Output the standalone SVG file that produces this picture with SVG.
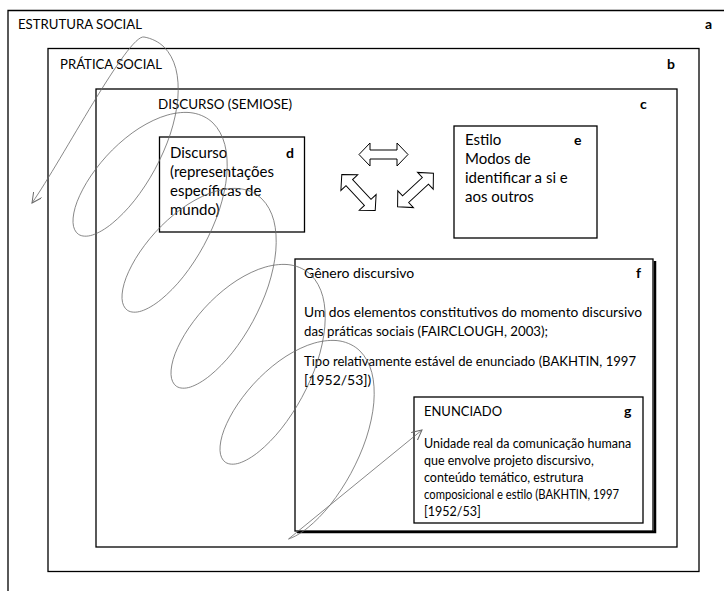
<svg xmlns="http://www.w3.org/2000/svg" width="724" height="591" viewBox="0 0 724 591">
<defs>
<style>
.bx{fill:#fff;stroke:#000;stroke-width:1.3}
.t{font-family:Lato,"Liberation Sans",sans-serif;fill:#000}
.h{font-size:13.5px}
.d{font-size:15px}
.f{font-size:14px}
.g{font-size:12.5px}
.k{font-size:14px;font-weight:bold}
.sp{fill:none;stroke:#6a6a6a;stroke-width:0.8}
.da{fill:#fff;stroke:#000;stroke-width:1}
</style>
<marker id="ah" markerWidth="12" markerHeight="12" refX="10" refY="5" orient="auto-start-reverse" markerUnits="userSpaceOnUse">
<path d="M0,0 L10,5 L0,10" fill="none" stroke="#6a6a6a" stroke-width="1"/>
</marker>
<polygon id="dbl" points="-24.5,0 -13.5,-11.5 -13.5,-4.5 13.5,-4.5 13.5,-11.5 24.5,0 13.5,11.5 13.5,4.5 -13.5,4.5 -13.5,11.5"/>
</defs>
<rect width="724" height="591" fill="#fff"/>
<g id="a">
<path d="M8,591 V10.5 H724" fill="none" stroke="#000" stroke-width="1.3"/>
<text class="t h" x="18" y="29" textLength="124" lengthAdjust="spacingAndGlyphs">ESTRUTURA SOCIAL</text>
<text class="t k" x="705" y="29">a</text>
</g>
<g id="b">
<rect class="bx" x="48" y="48.5" width="651" height="523"/>
<text class="t h" x="60" y="69" textLength="102" lengthAdjust="spacingAndGlyphs">PRÁTICA SOCIAL</text>
<text class="t k" x="667" y="69">b</text>
</g>
<g id="c">
<rect class="bx" x="96" y="89" width="581" height="458"/>
<text class="t h" x="158" y="109" textLength="134" lengthAdjust="spacingAndGlyphs">DISCURSO (SEMIOSE)</text>
<text class="t k" x="640" y="109">c</text>
</g>
<g id="d">
<rect class="bx" x="159.5" y="137" width="145" height="95"/>
<text class="t d" x="170" y="158">Discurso</text>
<text class="t d" x="170" y="177">(representações</text>
<text class="t d" x="170" y="196">específicas de</text>
<text class="t d" x="170" y="215">mundo)</text>
<text class="t k" x="286" y="158">d</text>
</g>
<g id="e">
<rect class="bx" x="454" y="126" width="143" height="112"/>
<text class="t d" x="465" y="145">Estilo</text>
<text class="t d" x="465" y="164">Modos de</text>
<text class="t d" x="465" y="183">identificar a si e</text>
<text class="t d" x="465" y="202">aos outros</text>
<text class="t k" x="574" y="145">e</text>
</g>
<g id="f">
<path d="M297,532 H655 V261" fill="none" stroke="#000" stroke-width="2.5"/>
<rect class="bx" x="295" y="259" width="358" height="272"/>
<text class="t f" x="304" y="278">Gênero discursivo</text>
<text class="t k" x="636" y="278">f</text>
<text class="t f" x="304" y="317" textLength="338" lengthAdjust="spacingAndGlyphs">Um dos elementos constitutivos do momento discursivo</text>
<text class="t f" x="304" y="336" textLength="244" lengthAdjust="spacingAndGlyphs">das práticas sociais (FAIRCLOUGH, 2003);</text>
<text class="t f" x="304" y="366" textLength="332" lengthAdjust="spacingAndGlyphs">Tipo relativamente estável de enunciado (BAKHTIN, 1997</text>
<text class="t f" x="304" y="385">[1952/53])</text>
</g>
<g id="g">
<rect class="bx" x="414" y="397" width="229" height="126"/>
<text class="t h" x="424" y="416" textLength="78" lengthAdjust="spacingAndGlyphs">ENUNCIADO</text>
<text class="t k" x="624" y="416">g</text>
<text class="t g" x="424" y="448">Unidade real da comunicação humana</text>
<text class="t g" x="424" y="465">que envolve projeto discursivo,</text>
<text class="t g" x="424" y="482">conteúdo temático, estrutura</text>
<text class="t g" x="424" y="499" textLength="195" lengthAdjust="spacingAndGlyphs">composicional e estilo (BAKHTIN, 1997</text>
<text class="t g" x="424" y="516">[1952/53]</text>
</g>
<g id="connectors">
<use href="#dbl" class="da" transform="translate(383.5,154.5)"/>
<use href="#dbl" class="da" transform="translate(358.5,192.5) rotate(47)"/>
<use href="#dbl" class="da" transform="translate(415.5,190) rotate(-43)"/>
<path class="sp" marker-start="url(#ah)" marker-end="url(#ah)" d="M32,203 C62,160 128,34 144,37
c7.65,1.33 14.8,4.85 20.1,10.1 c5.3,5.25 9.42,12.78 11.7,21.4 c2.28,8.62 2.92,19.38 2,30.3 c-0.92,10.92 -3.67,23.42 -7.5,35.2 c-3.83,11.78 -9.5,24.38 -15.5,35.5 c-6,11.12 -13.4,22.22 -20.5,31.2 c-7.1,8.98 -15.13,16.98 -22.1,22.7 c-6.97,5.72 -14.1,9.77 -19.7,11.6 c-5.6,1.83 -10.65,1.48 -13.9,-0.6 c-3.25,-2.08 -5.35,-6.45 -5.6,-11.9 c-0.25,-5.45 1.13,-13.05 4.1,-20.8 c2.97,-7.75 7.83,-17.08 13.7,-25.7 c5.87,-8.62 13.47,-18.05 21.5,-26 c8.03,-7.95 17.55,-15.88 26.7,-21.7 c9.15,-5.82 19.2,-10.65 28.2,-13.2 c9,-2.55 18.15,-3.43 25.8,-2.1
c7.65,1.33 14.8,4.85 20.1,10.1 c5.3,5.25 9.42,12.78 11.7,21.4 c2.28,8.62 2.92,19.38 2,30.3 c-0.92,10.92 -3.67,23.42 -7.5,35.2 c-3.83,11.78 -9.5,24.38 -15.5,35.5 c-6,11.12 -13.4,22.22 -20.5,31.2 c-7.1,8.98 -15.13,16.98 -22.1,22.7 c-6.97,5.72 -14.1,9.77 -19.7,11.6 c-5.6,1.83 -10.65,1.48 -13.9,-0.6 c-3.25,-2.08 -5.35,-6.45 -5.6,-11.9 c-0.25,-5.45 1.13,-13.05 4.1,-20.8 c2.97,-7.75 7.83,-17.08 13.7,-25.7 c5.87,-8.62 13.47,-18.05 21.5,-26 c8.03,-7.95 17.55,-15.88 26.7,-21.7 c9.15,-5.82 19.2,-10.65 28.2,-13.2 c9,-2.55 18.15,-3.43 25.8,-2.1
c7.65,1.33 14.8,4.85 20.1,10.1 c5.3,5.25 9.42,12.78 11.7,21.4 c2.28,8.62 2.92,19.38 2,30.3 c-0.92,10.92 -3.67,23.42 -7.5,35.2 c-3.83,11.78 -9.5,24.38 -15.5,35.5 c-6,11.12 -13.4,22.22 -20.5,31.2 c-7.1,8.98 -15.13,16.98 -22.1,22.7 c-6.97,5.72 -14.1,9.77 -19.7,11.6 c-5.6,1.83 -10.65,1.48 -13.9,-0.6 c-3.25,-2.08 -5.35,-6.45 -5.6,-11.9 c-0.25,-5.45 1.13,-13.05 4.1,-20.8 c2.97,-7.75 7.83,-17.08 13.7,-25.7 c5.87,-8.62 13.47,-18.05 21.5,-26 c8.03,-7.95 17.55,-15.88 26.7,-21.7 c9.15,-5.82 19.2,-10.65 28.2,-13.2 c9,-2.55 18.15,-3.43 25.8,-2.1
c7.65,1.33 14.8,4.85 20.1,10.1 c5.3,5.25 9.42,12.78 11.7,21.4 c2.28,8.62 2.92,19.38 2,30.3 c-0.92,10.92 -3.67,23.42 -7.5,35.2 c-3.83,11.78 -9.5,24.38 -15.5,35.5 c-6,11.12 -13.4,22.22 -20.5,31.2 c-7.1,8.98 -15.13,16.98 -22.1,22.7 c-6.97,5.72 -14.1,9.77 -19.7,11.6 c-5.6,1.83 -10.65,1.48 -13.9,-0.6 c-3.25,-2.08 -5.35,-6.45 -5.6,-11.9 c-0.25,-5.45 1.13,-13.05 4.1,-20.8 c2.97,-7.75 7.83,-17.08 13.7,-25.7 c5.87,-8.62 13.47,-18.05 21.5,-26 c8.03,-7.95 17.55,-15.88 26.7,-21.7 c9.15,-5.82 19.2,-10.65 28.2,-13.2 c9,-2.55 18.15,-3.43 25.8,-2.1
c7.65,1.33 14.8,4.85 20.1,10.1 c5.3,5.25 9.42,12.78 11.7,21.4 c2.28,8.62 2.92,19.38 2,30.3 c-0.92,10.92 -3.67,23.42 -7.5,35.2 c-3.83,11.78 -9.5,24.38 -15.5,35.5 c-6,11.12 -13.4,22.22 -20.5,31.2 c-7.1,8.98 -15.13,16.98 -22.1,22.7 c-6.97,5.72 -14.1,9.77 -19.7,11.6
L422,430"/>
</g>
</svg>
